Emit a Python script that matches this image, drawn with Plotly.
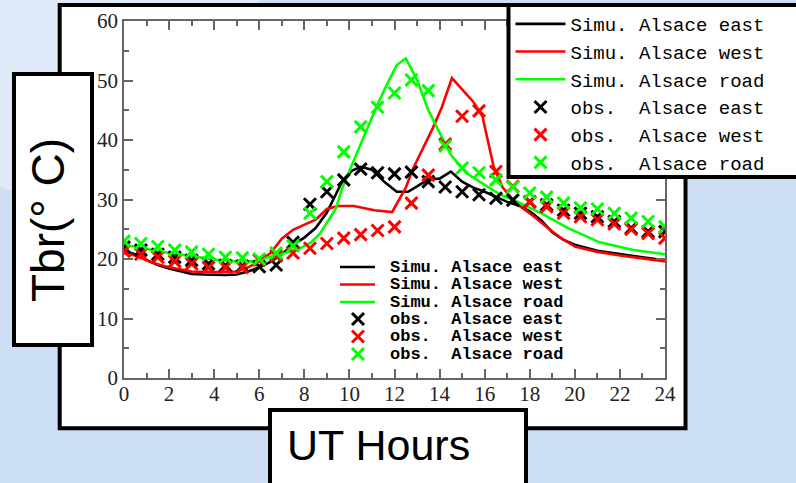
import plotly.graph_objects as go

# ---------------- data ----------------
obs_hours = [0, 0.75, 1.5, 2.25, 3, 3.75, 4.5, 5.25, 6, 6.75, 7.5, 8.25, 9, 9.75, 10.5,
             11.25, 12, 12.75, 13.5, 14.25, 15, 15.75, 16.5, 17.25, 18, 18.75, 19.5,
             20.25, 21, 21.75, 22.5, 23.25, 24]
obs_east = [22.0, 21.5, 20.8, 20.3, 19.8, 19.2, 18.9, 18.8, 18.7, 19.0,
            22.8, 29.2, 31.3, 33.3, 35.1, 34.5, 34.3, 34.6, 33.0, 32.1,
            31.3, 30.8, 30.2, 29.9, 29.6, 29.1, 28.2, 27.7, 27.1, 26.3,
            25.2, 24.6, 24.6]
obs_west = [21.3, 20.8, 20.3, 19.6, 19.2, 18.6, 18.6, 18.6, 19.8, 20.5,
            21.0, 21.8, 22.6, 23.5, 24.1, 24.8, 25.4, 29.4, 34.1, 39.3,
            44.0, 44.9, 34.7, 32.2, 29.6, 28.8, 27.7, 27.1, 26.6, 25.9,
            25.0, 24.3, 23.5]
obs_road = [23.0, 22.6, 22.1, 21.5, 21.2, 20.8, 20.3, 20.2, 20.0, 21.0,
            22.2, 27.7, 33.0, 38.0, 42.2, 45.5, 47.9, 50.1, 48.3, 39.0,
            35.3, 34.5, 33.3, 32.1, 31.1, 30.4, 29.4, 28.6, 28.4, 27.7,
            26.9, 26.3, 25.4]

sim_east_h = [0, 0.5, 1, 1.5, 2, 2.5, 3, 3.5, 4, 4.5, 5, 5.5, 6, 6.5, 7, 7.5, 8, 8.5, 9,
              9.4, 9.7, 10.1, 10.5, 11.0, 11.6, 12.1, 12.6, 13.0, 13.5, 14.0, 14.5, 15.0,
              15.5, 16.0, 16.5, 17.0, 17.5, 18.0, 18.5, 19.0, 19.5, 20, 21, 22, 23, 24]
sim_east = [21.3, 20.8, 19.8, 19.0, 18.4, 17.9, 17.5, 17.4, 17.3, 17.3, 17.4, 17.9, 18.6,
            19.5, 20.8, 22.4, 23.6, 25.2, 27.8, 31.0, 33.2, 34.8, 35.5, 35.0, 32.8, 31.3,
            31.3, 32.2, 33.4, 33.5, 34.7, 33.0, 32.0, 31.3, 30.4, 29.6, 29.0, 28.0, 26.5,
            24.5, 23.2, 22.4, 21.4, 20.8, 20.3, 19.8]

sim_west_h = [0, 0.5, 1, 1.5, 2, 2.5, 3, 4, 5, 5.5, 6, 6.5, 7, 7.5, 8, 8.5, 9, 9.5, 10.2,
              11.1, 11.9, 12.2, 12.5, 12.8, 13.3, 13.7, 14.1, 14.55, 15.0, 15.5, 15.9,
              16.4, 16.8, 17.2, 17.6, 18.2, 18.8, 19.4, 20, 21, 22, 23, 24]
sim_west = [21.0, 20.6, 19.8, 19.1, 18.6, 18.2, 17.9, 17.8, 17.9, 18.6, 19.6, 21.0, 23.4,
            24.9, 25.7, 26.6, 28.4, 28.9, 28.9, 28.2, 27.9, 29.9, 32.0, 35.0, 38.9, 42.0,
            45.5, 50.4, 48.5, 46.4, 44.0, 35.5, 32.0, 30.2, 28.8, 27.1, 25.2, 23.5, 22.1,
            21.2, 20.6, 20.1, 19.6]

sim_road_h = [0, 1, 2, 3, 4, 5, 5.7, 6.3, 6.9, 7.8, 8.3, 8.7, 9.1, 9.4, 9.7, 10.2, 10.8,
              11.2, 11.7, 12.1, 12.5, 13.0, 13.5, 14.0, 14.5, 15.2, 16.1, 16.7, 17.4, 18.5,
              19.7, 21.1, 22.6, 24]
sim_road = [22.4, 21.7, 21.0, 20.5, 19.9, 19.6, 19.6, 20.2, 20.7, 21.8, 22.8, 24.3, 26.6,
            28.5, 32.1, 36.6, 41.7, 45.6, 49.6, 52.6, 53.7, 50.1, 45.0, 41.2, 37.5, 34.4,
            32.2, 30.8, 29.7, 27.7, 25.2, 22.8, 21.5, 20.8]

sim_names = ["Simu. Alsace east", "Simu. Alsace west", "Simu. Alsace road"]
obs_names = ["obs.  Alsace east", "obs.  Alsace west", "obs.  Alsace road"]
colors = ["#000000", "#ff0000", "#00ff00"]
x_ticks = [0, 2, 4, 6, 8, 10, 12, 14, 16, 18, 20, 22, 24]
y_ticks = [0, 10, 20, 30, 40, 50, 60]

# ---------------- layout helpers ----------------
FW, FH = 796, 483
ML, MR, MT, MB = 124, 131, 21, 105
PW, PH = FW - ML - MR, FH - MT - MB
BG = "#cddff4"


def fx(p):
    return (p - ML) / PW


def fy(p):
    return (FH - MB - p) / PH


fig = go.Figure()

sim_sets = [(sim_east_h, sim_east), (sim_west_h, sim_west), (sim_road_h, sim_road)]
for (hx, hy), name, c in zip(sim_sets, sim_names, colors):
    fig.add_trace(go.Scatter(x=hx, y=hy, mode="lines", name=name,
                             line=dict(color=c, width=2.6)))
for vals, name, c in zip([obs_east, obs_west, obs_road], obs_names, colors):
    fig.add_trace(go.Scatter(x=obs_hours, y=vals, mode="markers", name=name,
                             marker=dict(symbol="x-thin", size=12, color=c,
                                         line=dict(color=c, width=3))))

axis_common = dict(
    showgrid=False, zeroline=False, showline=True, linecolor="#666", linewidth=1.5,
    mirror="ticks", ticks="inside", ticklen=9, tickwidth=1.5, tickcolor="#666",
    tickfont=dict(family="Liberation Serif, Times New Roman, serif", size=21, color="#222"),
)
fig.update_xaxes(range=[0, 24], tickvals=x_ticks, ticklabelstandoff=-4,
                 minor=dict(dtick=1, ticks="inside", ticklen=5, tickwidth=1.5, tickcolor="#666"),
                 title=dict(text="UT Hours", standoff=0,
                            font=dict(family="Liberation Serif, serif", size=21, color="#222")),
                 **axis_common)
fig.update_yaxes(range=[0, 60], tickvals=y_ticks,
                 minor=dict(dtick=5, ticks="inside", ticklen=5, tickwidth=1.5, tickcolor="#666"),
                 **axis_common)

shapes = []
# soft slide glow
shapes.append(dict(type="circle", xref="paper", yref="paper", layer="below",
                   x0=fx(-120), x1=fx(260), y0=fy(-160), y1=fy(200),
                   fillcolor="rgba(255,255,255,0.35)", line=dict(width=0)))
# white chart panel
shapes.append(dict(type="rect", xref="paper", yref="paper", layer="below",
                   x0=fx(59.7), x1=fx(685.5), y0=fy(428.3), y1=fy(5),
                   fillcolor="white", line=dict(color="black", width=4)))
# frame of the top-right legend (runs off the right edge, as in the slide)
shapes.append(dict(type="rect", xref="paper", yref="paper", layer="above",
                   x0=fx(508.5), x1=fx(840), y0=fy(177), y1=fy(5),
                   fillcolor="white", line=dict(color="black", width=4)))

# inner legend (copy drawn inside the plot)
row_y = [267, 284.5, 302, 319, 336.5, 354]
annotations = []
mono_b = "Liberation Mono, Courier New, monospace"
for i in range(3):
    shapes.append(dict(type="line", xref="paper", yref="paper", layer="above",
                       x0=fx(340), x1=fx(375), y0=fy(row_y[i]), y1=fy(row_y[i]),
                       line=dict(color=colors[i], width=2.6)))
for i in range(3):
    yc = row_y[i + 3]
    xc = 358
    d = 6
    path = "M {a},{b} L {c},{e} M {a},{e} L {c},{b}".format(
        a=fx(xc - d), b=fy(yc - d), c=fx(xc + d), e=fy(yc + d))
    shapes.append(dict(type="path", xref="paper", yref="paper", layer="above",
                       path=path, line=dict(color=colors[i], width=3)))
for i, name in enumerate(sim_names + obs_names):
    annotations.append(dict(xref="paper", yref="paper", x=fx(388), y=fy(row_y[i]),
                            xanchor="left", yanchor="middle", showarrow=False,
                            text=name.replace(" ", "&nbsp;"),
                            font=dict(family=mono_b, size=17, color="black", weight="bold")))

# Y title box
annotations.append(dict(xref="paper", yref="paper", x=fx(52.8), y=fy(209.4),
                        xanchor="center", yanchor="middle", showarrow=False, text=" ",
                        width=73.5, height=267, bgcolor="white", bordercolor="black",
                        borderwidth=4, borderpad=0))
annotations.append(dict(xref="paper", yref="paper", x=fx(48), y=fy(220),
                        xanchor="center", yanchor="middle", showarrow=False,
                        text="Tbr(°&nbsp;C)", textangle=-90,
                        font=dict(family="Liberation Sans, Arial, sans-serif",
                                  size=46, color="black")))
# X title box
annotations.append(dict(xref="paper", yref="paper", x=fx(397.5), y=fy(458.3),
                        xanchor="center", yanchor="middle", showarrow=False, text=" ",
                        width=252.4, height=92, bgcolor="white", bordercolor="black",
                        borderwidth=4, borderpad=0))
annotations.append(dict(xref="paper", yref="paper", x=fx(378.5), y=fy(445),
                        xanchor="center", yanchor="middle", showarrow=False,
                        text="UT Hours",
                        font=dict(family="Liberation Sans, Arial, sans-serif", size=43,
                                  color="black")))

fig.update_layout(
    width=FW, height=FH,
    margin=dict(l=ML, r=MR, t=MT, b=MB, pad=0, autoexpand=False),
    paper_bgcolor=BG, plot_bgcolor="white",
    shapes=shapes, annotations=annotations,
    showlegend=True,
    legend=dict(x=fx(510.5), y=fy(5), xanchor="left", yanchor="top",
                bgcolor="rgba(0,0,0,0)", borderwidth=0,
                font=dict(family="Liberation Mono, Courier New, monospace", size=19,
                          color="black"),
                itemwidth=50, tracegroupgap=0),
)

fig.write_html("out.html", config={"displayModeBar": False},
               post_script="document.body.style.margin='0';"
                           "document.body.style.background='" + BG + "';")
